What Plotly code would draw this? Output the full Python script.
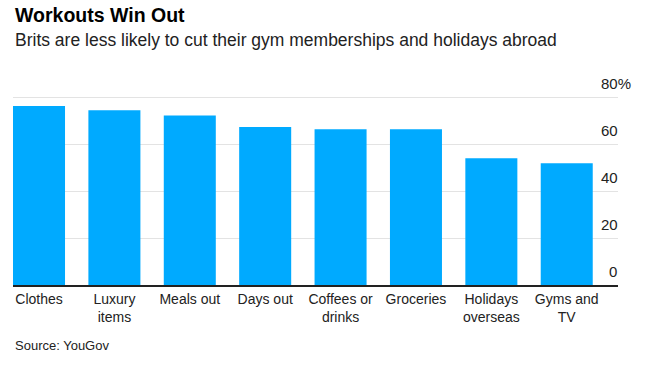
import plotly.graph_objects as go

categories = ["Clothes", "Luxury<br>items", "Meals out", "Days out", "Coffees or<br>drinks",
              "Groceries", "Holidays<br>overseas", "Gyms and<br>TV"]
values = [76.2, 74.4, 72.2, 67.3, 66.3, 66.3, 54.0, 51.9]
y_ticks = [0, 20, 40, 60, 80]
y_tick_labels = ["0", "20", "40", "60", "80"]
y_unit = "%"

FONT = "Liberation Sans, Arial, sans-serif"
HIDDEN = "<span style='color:rgba(0,0,0,0)'>%s</span>"

fig = go.Figure()
fig.add_trace(go.Bar(
    x=list(range(len(categories))), y=values,
    marker=dict(color="#00aaff", line=dict(width=0)),
    width=0.69,
))

annotations = []
for i, (v, t) in enumerate(zip(y_ticks, y_tick_labels)):
    suffix = y_unit if i == len(y_ticks) - 1 else HIDDEN % y_unit
    annotations.append(dict(x=1, xref="paper", xshift=15, y=v, yref="y", text=t + suffix,
                            showarrow=False, xanchor="right", yanchor="middle", yshift=14,
                            font=dict(family=FONT, size=15, color="#222")))
annotations.append(dict(x=0, xref="paper", y=1, yref="paper", yshift=81, text="<b>Workouts Win Out</b>",
                        showarrow=False, xanchor="left", yanchor="middle",
                        font=dict(family=FONT, size=19.5, color="#000")))
annotations.append(dict(x=0, xref="paper", y=1, yref="paper", yshift=56,
                        text="Brits are less likely to cut their gym memberships and holidays abroad",
                        showarrow=False, xanchor="left", yanchor="middle",
                        font=dict(family=FONT, size=17.5, color="#222")))
annotations.append(dict(x=0, xref="paper", y=0, yref="paper", yshift=-60, text="Source: YouGov",
                        showarrow=False, xanchor="left", yanchor="middle",
                        font=dict(family=FONT, size=13, color="#222")))

fig.update_layout(
    width=653, height=365,
    margin=dict(l=13, r=35, t=96, b=80),
    paper_bgcolor="white", plot_bgcolor="white",
    showlegend=False,
    bargap=0.31,
    annotations=annotations,
    xaxis=dict(
        range=[-0.345, 7.68],
        tickmode="array", tickvals=list(range(len(categories))), ticktext=categories,
        tickfont=dict(family=FONT, size=14, color="#222"),
        showgrid=False, zeroline=False,
        showline=True, linecolor="#222", linewidth=1.5,
        ticks="", fixedrange=True, automargin=False,
    ),
    yaxis=dict(
        range=[0, 80.5], tickvals=y_ticks, showticklabels=False,
        showgrid=True, gridcolor="#e3e3e3", gridwidth=1,
        zeroline=False, showline=False, ticks="", automargin=False,
    ),
)

fig.write_html("out.html", config={"displayModeBar": False},
               post_script="document.body.style.margin='0';document.body.style.overflow='hidden';")
